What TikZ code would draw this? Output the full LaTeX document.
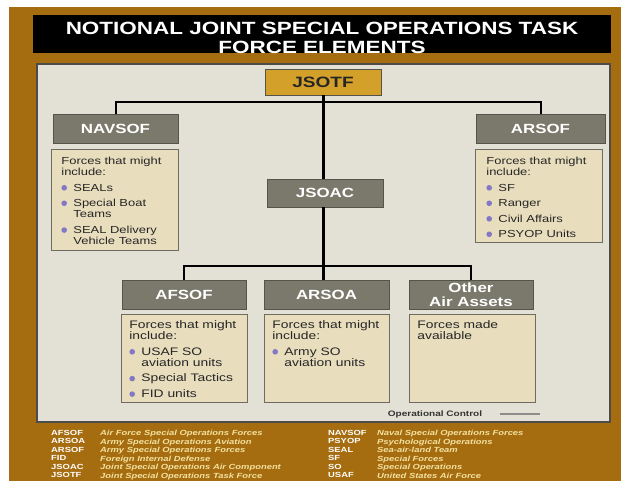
\documentclass[tikz,border=0pt]{standalone}
\usepackage{fontspec}
\setmainfont{Liberation Sans}[FakeStretch=1.27]
\usepackage{tikz}
\usetikzlibrary{positioning}
\definecolor{ochre}{HTML}{A66C10}
\definecolor{panelgrey}{HTML}{E3E1D5}
\definecolor{jsgold}{HTML}{D3A02A}
\definecolor{hdrgrey}{HTML}{7A796B}
\definecolor{hdredge}{HTML}{55544A}
\definecolor{detbeige}{HTML}{E8DDBD}
\definecolor{detedge}{HTML}{6E6B60}
\definecolor{lavender}{HTML}{8278C6}
\definecolor{legyellow}{HTML}{F2E2A0}

\tikzset{
  hdr/.style={draw=hdredge, fill=hdrgrey, text=white, line width=0.8pt, inner sep=0pt,
    font=\bfseries\fontsize{13.3}{13}\selectfont, align=center, minimum height=29pt},
  detail/.style={draw=detedge, fill=detbeige, line width=0.8pt, anchor=north west,
    inner ysep=4pt, text=black!85},
  legabbr/.style={anchor=north west, inner sep=0pt, align=left, text=white,
    font=\bfseries\fontsize{7.4}{8.5}\selectfont},
  legdesc/.style={anchor=north west, inner sep=0pt, align=left, text=legyellow,
    font=\bfseries\itshape\fontsize{7.4}{8.5}\selectfont},
  wire/.style={line width=2pt},
  trunk/.style={line width=3pt}
}
\newcommand{\bitem}[1]{\par\vspace{4.2pt}\noindent
  \makebox[12pt][l]{\tikz[baseline]\fill[lavender] (2.8pt,3.3pt) circle (2.8pt);}%
  \hangindent=12pt\hangafter=1 #1}
\newcommand{\detailtext}[3]{\parbox[c][#2][t]{#1}{\raggedright #3}}

\begin{document}
\begin{tikzpicture}[x=1pt,y=-1pt]
        \useasboundingbox (0,0) rectangle (621,481);
        \fill[white] (0,0) rectangle (621,481);

        % Frame
        \fill[ochre] (9,7) rectangle (621,481);

        % Title
        \fill[black] (33,15) rectangle (611,53);
        \node[text=white, font=\bfseries\fontsize{17.7}{19}\selectfont, align=center] (title) at (322,38)
          {NOTIONAL JOINT SPECIAL OPERATIONS TASK\\FORCE ELEMENTS};

        % Panel
        \draw[fill=panelgrey, draw=black!70, line width=1.2pt] (37,64) rectangle (610,422);

        % Command boxes
        \node[draw=hdredge, fill=jsgold, line width=0.8pt, text=black!85, font=\bfseries\fontsize{15}{15}\selectfont,
          minimum width=116pt, minimum height=26pt, inner sep=0pt] (jsotf) at (323,82) {JSOTF};
        \node[hdr, minimum width=125pt] (navsof) at (115.5,128.5) {NAVSOF};
        \node[hdr, minimum width=129pt] (arsof) at (540.5,128.5) {ARSOF};
        \node[hdr, minimum width=116pt, minimum height=28pt] (jsoac) at (325,193) {JSOAC};
        \node[hdr, minimum width=124pt] (afsof) at (184,294.5) {AFSOF};
        \node[hdr, minimum width=125pt] (arsoa) at (326.5,294.5) {ARSOA};
        \node[hdr, minimum width=124pt, font=\bfseries\fontsize{13.3}{13.5}\selectfont] (otherair) at (471,294.5) {Other\\Air Assets};

        % Connectors
        \coordinate (topbar) at (323,102);
        \coordinate (lowbar) at (323,266);
        \draw[wire] (navsof.north) |- (topbar) -| (arsof.north);
        \draw[trunk] (jsotf.south) -- (jsotf.south |- jsoac.north);
        \draw[wire] (afsof.north) |- (lowbar) -| (otherair.north);
        \draw[trunk] (lowbar |- jsoac.south) -- (lowbar |- arsoa.north);

        % Detail boxes (top)
        \node[detail, inner xsep=10pt] (navdet) at (51,149)
          {\fontsize{10.2}{11.3}\selectfont\detailtext{107pt}{93pt}{\vspace*{3.5pt}Forces that might\\include:
            \bitem{SEALs}
            \bitem{Special Boat\newline Teams}
            \bitem{SEAL Delivery\newline Vehicle Teams}}};
        \node[detail, inner xsep=11pt] (arsdet) at (475,149)
          {\fontsize{10.2}{11.3}\selectfont\detailtext{105pt}{85pt}{\vspace*{3.5pt}Forces that might\\include:
            \bitem{SF}
            \bitem{Ranger}
            \bitem{Civil Affairs}
            \bitem{PSYOP Units}}};

        % Detail boxes (bottom)
        \node[detail, inner xsep=8pt] (afdet) at (121,314)
          {\fontsize{10.9}{11.3}\selectfont\detailtext{110pt}{80pt}{\vspace*{2pt}Forces that might\\include:
            \bitem{USAF SO\newline aviation units}
            \bitem{Special Tactics}
            \bitem{FID units}}};
        \node[detail, inner xsep=8pt] (arsoadet) at (264,314)
          {\fontsize{10.9}{11.3}\selectfont\detailtext{109pt}{80pt}{\vspace*{2pt}Forces that might\\include:
            \bitem{Army SO\newline aviation units}}};
        \node[detail, inner xsep=8pt] (othdet) at (409,314)
          {\fontsize{10.9}{11.3}\selectfont\detailtext{110pt}{80pt}{\vspace*{2pt}Forces made\\available}};

        % Operational control key
        \node[font=\bfseries\fontsize{7.9}{8}\selectfont, text=black!80] (opctl) at (435,414) {Operational Control};
        \coordinate (opend) at (540,414);
        \draw[black!45, line width=1.3pt] ([xshift=14pt]opctl.east) -- (opend);

        % Legend
        \node[legabbr] (abbrleft) at (51,430) {AFSOF\\ARSOA\\ARSOF\\FID\\JSOAC\\JSOTF};
        \node[legdesc] (descleft) at (100,430) {Air Force Special Operations Forces\\Army Special Operations Aviation\\
          Army Special Operations Forces\\Foreign Internal Defense\\Joint Special Operations Air Component\\
          Joint Special Operations Task Force};
        \node[legabbr] (abbrright) at (328,430) {NAVSOF\\PSYOP\\SEAL\\SF\\SO\\USAF};
        \node[legdesc] (descright) at (377,430) {Naval Special Operations Forces\\Psychological Operations\\
          Sea-air-land Team\\Special Forces\\Special Operations\\United States Air Force};
\end{tikzpicture}
\end{document}
